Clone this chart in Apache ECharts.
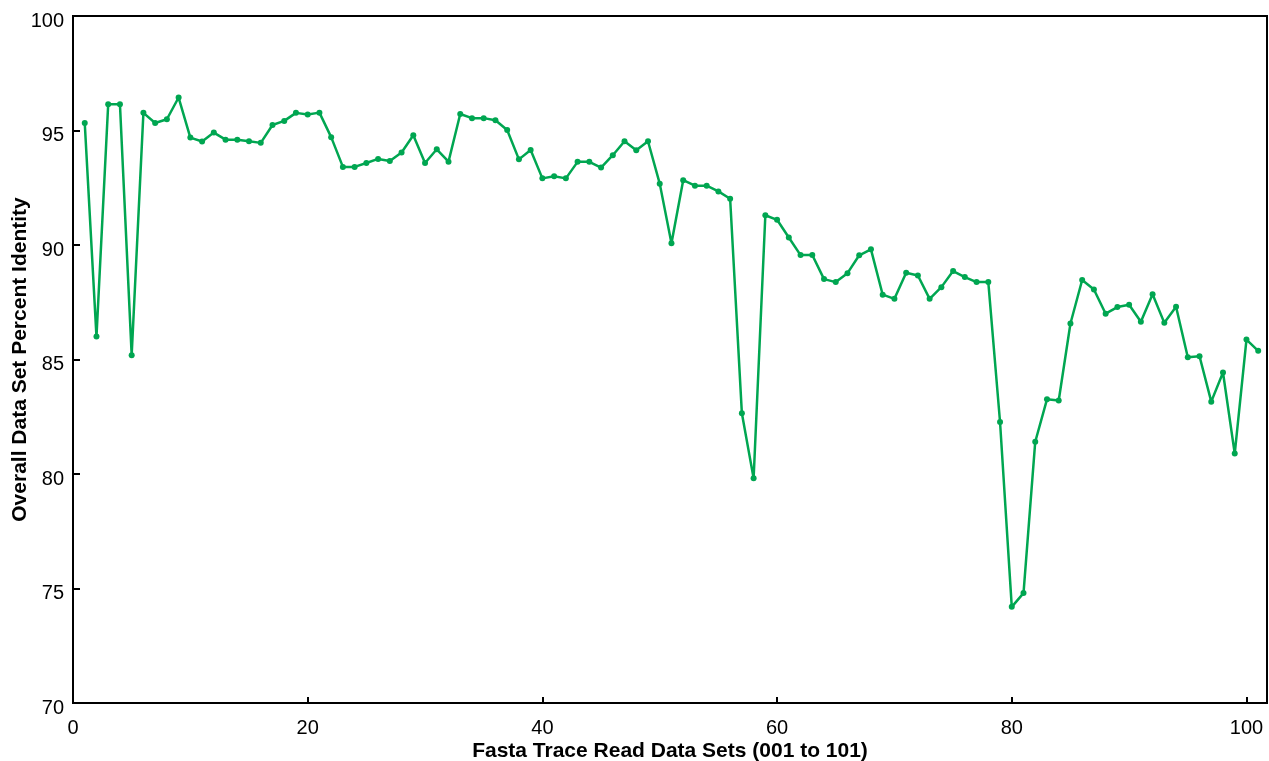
<!DOCTYPE html>
<html>
<head>
<meta charset="utf-8">
<title>Overall Data Set Percent Identity</title>
<script src="https://cdn.jsdelivr.net/npm/echarts@6/dist/echarts.min.js"></script>
<style>
  html, body { margin: 0; padding: 0; background: #fff; }
  #chart { width: 1269px; height: 761px; }
</style>
</head>
<body>
<div id="chart"></div>
<script>
// data sets 001..101
const dataSetIds = Array.from({ length: 101 }, (_, i) => i + 1)
const identity = [
  95.33, 86.0, 96.15, 96.15, 85.19, 95.77, 95.33, 95.49, 96.44, 94.69,
  94.52, 94.91, 94.6, 94.6, 94.53, 94.46, 95.24, 95.42, 95.77, 95.7,
  95.78, 94.71, 93.41, 93.41, 93.58, 93.76, 93.67, 94.04, 94.79, 93.58,
  94.18, 93.64, 95.72, 95.54, 95.54, 95.45, 95.02, 93.74, 94.15, 92.91,
  93.0, 92.91, 93.63, 93.63, 93.38, 93.92, 94.53, 94.14, 94.53, 92.68,
  90.08, 92.83, 92.59, 92.59, 92.34, 92.02, 82.65, 79.81, 91.3, 91.1,
  90.33, 89.56, 89.56, 88.51, 88.38, 88.77, 89.55, 89.81, 87.83, 87.65,
  88.79, 88.67, 87.65, 88.16, 88.86, 88.6, 88.38, 88.38, 82.27, 74.2,
  74.8, 81.41, 83.26, 83.21, 86.57, 88.47, 88.06, 87.0, 87.29, 87.39,
  86.65, 87.85, 86.6, 87.3, 85.1, 85.14, 83.16, 84.43, 80.89, 85.87,
  85.38
]
const xTicks = [0, 20, 40, 60, 80, 100]

const chart = echarts.init(document.getElementById('chart'))
const font = 'Liberation Sans, Arial, sans-serif'

const option = {
  animation: false,
  backgroundColor: '#fff',
  grid: {
    left: 73,
    right: 2,
    top: 16,
    bottom: 58,
    outerBoundsMode: 'none',
    show: true,
    borderColor: '#000',
    borderWidth: 2
  },
  xAxis: {
    type: 'value',
    min: 0,
    max: 101.75,
    name: 'Fasta Trace Read Data Sets (001 to 101)',
    nameLocation: 'middle',
    nameMoveOverlap: false,
    nameGap: 38,
    nameTextStyle: { fontFamily: font, fontSize: 21, fontWeight: 'bold', color: '#000' },
    axisLine: { lineStyle: { color: '#000', width: 2 } },
    axisTick: { inside: true, length: 6, customValues: xTicks, lineStyle: { color: '#000', width: 2 } },
    axisLabel: { customValues: xTicks, fontFamily: font, fontSize: 20, color: '#000', margin: 15 },
    splitLine: { show: false }
  },
  yAxis: {
    type: 'value',
    min: 70,
    max: 100,
    interval: 5,
    name: 'Overall Data Set Percent Identity',
    nameLocation: 'middle',
    nameMoveOverlap: false,
    nameGap: 42,
    nameTextStyle: { fontFamily: font, fontSize: 21, fontWeight: 'bold', color: '#000' },
    axisLine: { lineStyle: { color: '#000', width: 2 } },
    axisTick: { inside: true, length: 7, lineStyle: { color: '#000', width: 2 } },
    axisLabel: {
      fontFamily: font, fontSize: 20, color: '#000', margin: 9,
      verticalAlign: 'top', lineHeight: 10
    },
    splitLine: { show: false }
  },
  series: [
    {
      type: 'line',
      data: dataSetIds.map((id, i) => [id, identity[i]]),
      symbol: 'circle',
      symbolSize: 6,
      lineStyle: { color: '#00A651', width: 2.5 },
      itemStyle: { color: '#00A651' }
    }
  ]
}
chart.setOption(option)
</script>
</body>
</html>
